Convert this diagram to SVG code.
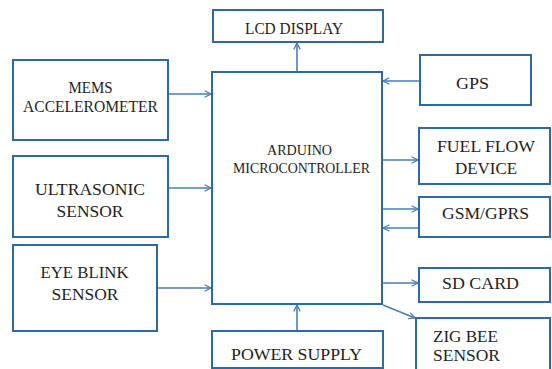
<svg xmlns="http://www.w3.org/2000/svg" width="552" height="369" viewBox="0 0 552 369">
<style>
.box{fill:#ffffff;stroke:#2f69a3;stroke-width:2}
.t{font-family:"Liberation Serif","Times New Roman",serif;font-size:17px;fill:#1e1e1e;text-anchor:middle}
.s{font-size:14px}
.l{text-anchor:start}
.c{fill:none;stroke:#4a7db5;stroke-width:1.6}
</style>
<defs>
<marker id="ah" viewBox="0 0 10 10" refX="9" refY="5" markerWidth="8" markerHeight="8" markerUnits="userSpaceOnUse" orient="auto">
<polyline points="1,1 9,5 1,9" fill="none" stroke="#4a7db5" stroke-width="1.6"/>
</marker>
</defs>
<rect width="552" height="369" fill="#ffffff"/>
<g id="connectors">
<line class="c" x1="168" y1="94" x2="211" y2="94" marker-end="url(#ah)"/>
<line class="c" x1="168" y1="188" x2="211" y2="188" marker-end="url(#ah)"/>
<line class="c" x1="157" y1="288" x2="211" y2="288" marker-end="url(#ah)"/>
<line class="c" x1="297" y1="72" x2="297" y2="43" marker-end="url(#ah)"/>
<line class="c" x1="297" y1="330" x2="297" y2="305" marker-end="url(#ah)"/>
<line class="c" x1="420" y1="81" x2="383" y2="81" marker-end="url(#ah)"/>
<line class="c" x1="382" y1="160" x2="418" y2="160" marker-end="url(#ah)"/>
<line class="c" x1="382" y1="209" x2="418" y2="209" marker-end="url(#ah)"/>
<line class="c" x1="419" y1="228" x2="383" y2="228" marker-end="url(#ah)"/>
<line class="c" x1="382" y1="283" x2="418" y2="283" marker-end="url(#ah)"/>
<line class="c" x1="383" y1="305" x2="415" y2="318" marker-end="url(#ah)"/>
</g>
<g id="lcd">
<rect class="box" x="213" y="10" width="170" height="32"/>
<text class="t" x="294" y="34" textLength="98" lengthAdjust="spacingAndGlyphs">LCD DISPLAY</text>
</g>
<g id="mems">
<rect class="box" x="13" y="60" width="155" height="80"/>
<text class="t" x="90.5" y="93" textLength="44" lengthAdjust="spacingAndGlyphs">MEMS</text>
<text class="t" x="90.5" y="111.5" textLength="135" lengthAdjust="spacingAndGlyphs">ACCELEROMETER</text>
</g>
<g id="ultrasonic">
<rect class="box" x="13" y="156" width="155" height="81"/>
<text class="t" x="90" y="195" textLength="110" lengthAdjust="spacingAndGlyphs">ULTRASONIC</text>
<text class="t" x="90" y="217" textLength="67" lengthAdjust="spacingAndGlyphs">SENSOR</text>
</g>
<g id="eyeblink">
<rect class="box" x="13" y="245" width="144" height="86"/>
<text class="t" x="84.5" y="277.5" textLength="88" lengthAdjust="spacingAndGlyphs">EYE BLINK</text>
<text class="t" x="85" y="300" textLength="67" lengthAdjust="spacingAndGlyphs">SENSOR</text>
</g>
<g id="arduino">
<rect class="box" x="212" y="72" width="170" height="232"/>
<text class="t s" x="299.5" y="155" textLength="65" lengthAdjust="spacingAndGlyphs">ARDUINO</text>
<text class="t s" x="301.5" y="172.5" textLength="137" lengthAdjust="spacingAndGlyphs">MICROCONTROLLER</text>
</g>
<g id="power">
<rect class="box" x="212" y="331" width="171" height="37"/>
<text class="t" x="296.5" y="360" textLength="131" lengthAdjust="spacingAndGlyphs">POWER SUPPLY</text>
</g>
<g id="gps">
<rect class="box" x="420" y="55" width="111" height="50"/>
<text class="t" x="472.5" y="88.5" textLength="33" lengthAdjust="spacingAndGlyphs">GPS</text>
</g>
<g id="fuel">
<rect class="box" x="419" y="128" width="131" height="56"/>
<text class="t" x="486" y="152" textLength="98" lengthAdjust="spacingAndGlyphs">FUEL FLOW</text>
<text class="t" x="486" y="173.5" textLength="62" lengthAdjust="spacingAndGlyphs">DEVICE</text>
</g>
<g id="gsm">
<rect class="box" x="419" y="197" width="131" height="40"/>
<text class="t" x="485.5" y="218.5" textLength="87" lengthAdjust="spacingAndGlyphs">GSM/GPRS</text>
</g>
<g id="sdcard">
<rect class="box" x="419" y="268" width="131" height="34"/>
<text class="t" x="480.5" y="289" textLength="77" lengthAdjust="spacingAndGlyphs">SD CARD</text>
</g>
<g id="zigbee">
<rect class="box" x="416" y="318" width="134" height="52"/>
<text class="t l" x="433" y="341.5" textLength="65" lengthAdjust="spacingAndGlyphs">ZIG BEE</text>
<text class="t l" x="433" y="361" textLength="67" lengthAdjust="spacingAndGlyphs">SENSOR</text>
</g>
</svg>
